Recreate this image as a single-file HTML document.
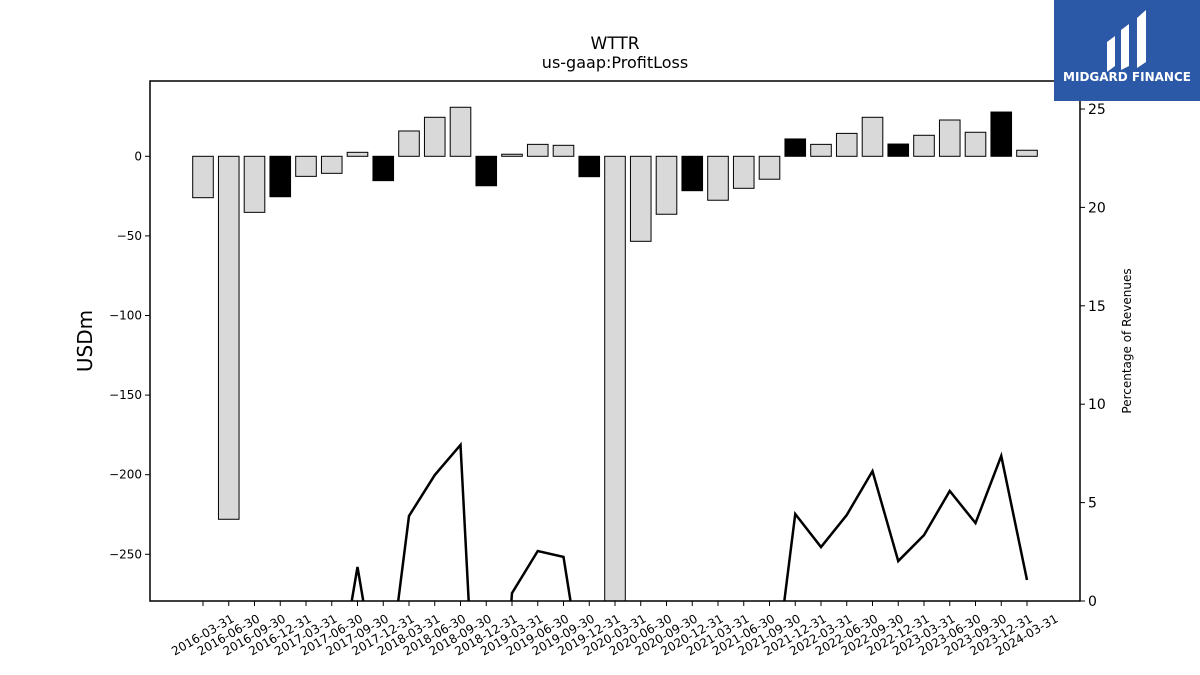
<!DOCTYPE html>
<html><head><meta charset="utf-8"><style>
html,body{margin:0;background:#fff;overflow:hidden;width:1200px;height:675px;font-family:"Liberation Sans","DejaVu Sans",sans-serif}
svg{display:block}
svg text{font-family:"DejaVu Sans","Liberation Sans",sans-serif}
</style></head><body>
<svg id="c" width="1200" height="675" xmlns="http://www.w3.org/2000/svg">
<rect width="1200" height="675" fill="#fff"/>
<text x="615" y="49" font-size="17" text-anchor="middle">WTTR</text>
<text x="615" y="68" font-size="16" text-anchor="middle">us-gaap:ProfitLoss</text>
<defs><clipPath id="pc"><rect x="150" y="81" width="930" height="520"/></clipPath></defs>
<g id="bars" clip-path="url(#pc)"></g>
<g id="line" clip-path="url(#pc)"></g>
<rect x="150" y="81" width="930" height="520" fill="none" stroke="#000" stroke-width="1.5"/>
<g id="axes"></g>
<text transform="translate(92,341) rotate(-90)" font-size="20" text-anchor="middle">USDm</text>
<text transform="translate(1131,341) rotate(-90)" font-size="12" text-anchor="middle">Percentage of Revenues</text>
<g>
<rect x="1054" y="0" width="146" height="101" fill="#2b59a8"/>
<path d="M1107 42 L1115 36 L1115 66 L1107 72 Z M1121 30 L1129 24 L1129 66 L1121 70 Z M1137 18 L1146 10 L1146 62 L1137 68 Z" fill="#fff"/>
<text x="1127" y="81" font-size="12" font-weight="bold" fill="#fff" text-anchor="middle" font-family="Liberation Sans">MIDGARD FINANCE</text>
</g>
</svg>
<script>
const categories=["2016-03-31","2016-06-30","2016-09-30","2016-12-31","2017-03-31","2017-06-30","2017-09-30","2017-12-31","2018-03-31","2018-06-30","2018-09-30","2018-12-31","2019-03-31","2019-06-30","2019-09-30","2019-12-31","2020-03-31","2020-06-30","2020-09-30","2020-12-31","2021-03-31","2021-06-30","2021-09-30","2021-12-31","2022-03-31","2022-06-30","2022-09-30","2022-12-31","2023-03-31","2023-06-30","2023-09-30","2023-12-31","2024-03-31"];
const profitLoss=[-26,-228,-35.2,-25.4,-12.6,-10.7,2.5,-15.3,15.9,24.5,30.8,-18.5,1.3,7.5,6.9,-12.8,-290,-53.4,-36.4,-21.6,-27.6,-20.1,-14.4,10.9,7.5,14.4,24.5,7.7,13.2,22.8,15.1,27.8,3.8];
const isQ4=[0,0,0,1,0,0,0,1,0,0,0,1,0,0,0,1,0,0,0,1,0,0,0,1,0,0,0,1,0,0,0,1,0];
const pctRevenue=[-10,-50,-10,-10,-8,-6,1.73,-6,4.32,6.4,7.93,-17,0.4,2.54,2.24,-6,-60,-10,-10,-10,-10,-10,-6,4.42,2.74,4.37,6.6,2.03,3.35,5.59,3.96,7.37,1.07];
const leftTicks=[0,-50,-100,-150,-200,-250];
const rightTicks=[0,5,10,15,20,25];
const NS="http://www.w3.org/2000/svg";
const x=i=>203+i*(1027-203)/32;
const y=v=>156.3-v*1.592;
const y2=v=>601-v*19.68;
function mk(t,a,p){const e=document.createElementNS(NS,t);for(const k in a)e.setAttribute(k,a[k]);p.appendChild(e);return e;}
const bars=document.getElementById('bars'),line=document.getElementById('line'),axes=document.getElementById('axes');
const bw=20.6;
profitLoss.forEach((v,i)=>{
 const r=mk('rect',{x:x(i)-bw/2,y:Math.min(y(v),y(0)),width:bw,height:Math.abs(y(v)-y(0)),fill:isQ4[i]?'#000':'#d9d9d9',stroke:'#000','stroke-width':1},bars);
 
 
});
const pl=mk('polyline',{points:pctRevenue.map((v,i)=>x(i)+','+y2(v)).join(' '),fill:'none',stroke:'#000','stroke-width':2.5},line);


leftTicks.forEach(t=>{
 mk('line',{x1:145,x2:150,y1:y(t),y2:y(t),stroke:'#000'},axes);
 const tx=mk('text',{x:142,y:y(t)+4,'font-size':12,'text-anchor':'end'},axes);tx.textContent=t===0?'0':'\u2212'+Math.abs(t);
 
 
});
rightTicks.forEach(t=>{
 mk('line',{x1:1080,x2:1085,y1:y2(t),y2:y2(t),stroke:'#000'},axes);
 const tx=mk('text',{x:1088,y:y2(t)+5,'font-size':14},axes);tx.textContent=t;
 
 
});
categories.forEach((c,i)=>{
 mk('line',{x1:x(i),x2:x(i),y1:601,y2:606,stroke:'#000'},axes);
 const tx=mk('text',{transform:`translate(${x(i)+32},${621}) rotate(-30)`,'font-size':12,'text-anchor':'end'},axes);tx.textContent=c;
 
 
});
</script>
</body></html>
